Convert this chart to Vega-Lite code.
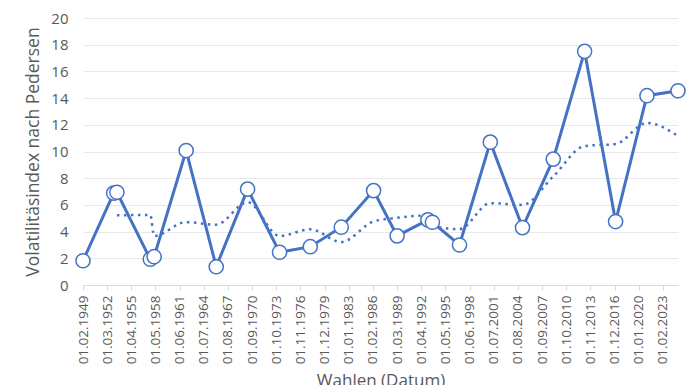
{
  "$schema": "https://vega.github.io/schema/vega-lite/v6.json",
  "width": 595,
  "height": 267,
  "autosize": {"type": "none"},
  "padding": {"left": 83, "top": 18, "right": 18, "bottom": 100},
  "background": "white",
  "config": {
    "view": {"stroke": null},
    "font": "Open Sans",
    "axis": {"labelColor": "#595959", "titleColor": "#595959", "titleFontWeight": "normal", "labelFont": "Open Sans", "titleFont": "Open Sans"}
  },
  "datasets": {
    "wahlen": [
      {"datum": "1949-02-01", "wert": 1.82},
      {"datum": "1953-01-01", "wert": 6.88},
      {"datum": "1953-06-01", "wert": 6.95},
      {"datum": "1957-09-01", "wert": 1.93},
      {"datum": "1958-03-01", "wert": 2.12},
      {"datum": "1962-04-01", "wert": 10.07},
      {"datum": "1966-02-01", "wert": 1.37},
      {"datum": "1970-02-01", "wert": 7.18},
      {"datum": "1974-03-01", "wert": 2.45},
      {"datum": "1978-02-01", "wert": 2.87},
      {"datum": "1982-01-15", "wert": 4.33},
      {"datum": "1986-03-01", "wert": 7.07},
      {"datum": "1989-03-01", "wert": 3.68},
      {"datum": "1993-02-01", "wert": 4.88},
      {"datum": "1993-09-01", "wert": 4.70},
      {"datum": "1997-02-15", "wert": 3.0},
      {"datum": "2001-01-20", "wert": 10.7},
      {"datum": "2005-03-01", "wert": 4.3},
      {"datum": "2009-02-01", "wert": 9.43},
      {"datum": "2013-02-01", "wert": 17.5},
      {"datum": "2017-01-15", "wert": 4.75},
      {"datum": "2021-01-15", "wert": 14.18},
      {"datum": "2025-01-01", "wert": 14.55}
    ],
    "trend": [
      {"datum": "1953-06-01", "wert": 5.22},
      {"datum": "1957-09-01", "wert": 5.25},
      {"datum": "1958-03-01", "wert": 3.67},
      {"datum": "1962-04-01", "wert": 4.71},
      {"datum": "1966-02-01", "wert": 4.52},
      {"datum": "1970-02-01", "wert": 6.21},
      {"datum": "1974-03-01", "wert": 3.67},
      {"datum": "1978-02-01", "wert": 4.17},
      {"datum": "1982-01-15", "wert": 3.22},
      {"datum": "1986-03-01", "wert": 4.76},
      {"datum": "1989-03-01", "wert": 5.03},
      {"datum": "1993-02-01", "wert": 5.21},
      {"datum": "1993-09-01", "wert": 4.42},
      {"datum": "1997-02-15", "wert": 4.19},
      {"datum": "2001-01-20", "wert": 6.13},
      {"datum": "2005-03-01", "wert": 6.0},
      {"datum": "2009-02-01", "wert": 8.14},
      {"datum": "2013-02-01", "wert": 10.41},
      {"datum": "2017-01-15", "wert": 10.56},
      {"datum": "2021-01-15", "wert": 12.14},
      {"datum": "2025-01-01", "wert": 11.16}
    ]
  },
  "encoding": {
    "x": {
      "field": "datum",
      "type": "temporal",
      "scale": {"domain": [{"year": 1949, "month": 2, "date": 1}, {"year": 2025, "month": 1, "date": 1}]},
      "axis": {
        "title": "Wahlen (Datum)",
        "titleFontSize": 17,
        "titlePadding": 9,
        "grid": false,
        "domainColor": "#d9d9d9",
        "domainWidth": 1,
        "tickColor": "#d9d9d9",
        "tickSize": 5,
        "labelAngle": -90,
        "labelFontSize": 13.5,
        "labelPadding": 5,
        "labelOverlap": false,
        "labelFlush": false,
        "format": "%d.%m.%Y",
        "values": [
          {"year": 1949, "month": 2, "date": 1},
          {"year": 1952, "month": 3, "date": 1},
          {"year": 1955, "month": 4, "date": 1},
          {"year": 1958, "month": 5, "date": 1},
          {"year": 1961, "month": 6, "date": 1},
          {"year": 1964, "month": 7, "date": 1},
          {"year": 1967, "month": 8, "date": 1},
          {"year": 1970, "month": 9, "date": 1},
          {"year": 1973, "month": 10, "date": 1},
          {"year": 1976, "month": 11, "date": 1},
          {"year": 1979, "month": 12, "date": 1},
          {"year": 1983, "month": 1, "date": 1},
          {"year": 1986, "month": 2, "date": 1},
          {"year": 1989, "month": 3, "date": 1},
          {"year": 1992, "month": 4, "date": 1},
          {"year": 1995, "month": 5, "date": 1},
          {"year": 1998, "month": 6, "date": 1},
          {"year": 2001, "month": 7, "date": 1},
          {"year": 2004, "month": 8, "date": 1},
          {"year": 2007, "month": 9, "date": 1},
          {"year": 2010, "month": 10, "date": 1},
          {"year": 2013, "month": 11, "date": 1},
          {"year": 2016, "month": 12, "date": 1},
          {"year": 2020, "month": 1, "date": 1},
          {"year": 2023, "month": 2, "date": 1}
        ]
      }
    },
    "y": {
      "field": "wert",
      "type": "quantitative",
      "scale": {"domain": [0, 20], "nice": false},
      "axis": {
        "title": "Volatilitäsindex nach Pedersen",
        "titleFontSize": 17.5,
        "titlePadding": 8,
        "values": [0, 2, 4, 6, 8, 10, 12, 14, 16, 18, 20],
        "domain": false,
        "ticks": false,
        "labelPadding": 15,
        "labelFontSize": 15,
        "gridColor": "#e8e8e8",
        "gridWidth": 1
      }
    }
  },
  "layer": [
    {
      "data": {"name": "trend"},
      "mark": {"type": "line", "color": "#4472C4", "strokeWidth": 2.5, "strokeDash": [2.5, 4.5], "interpolate": "monotone"}
    },
    {
      "data": {"name": "wahlen"},
      "mark": {"type": "line", "color": "#4472C4", "strokeWidth": 3}
    },
    {
      "data": {"name": "wahlen"},
      "mark": {"type": "point", "shape": "circle", "filled": true, "fill": "white", "stroke": "#4472C4", "strokeWidth": 1.5, "size": 200, "opacity": 1}
    }
  ]
}
